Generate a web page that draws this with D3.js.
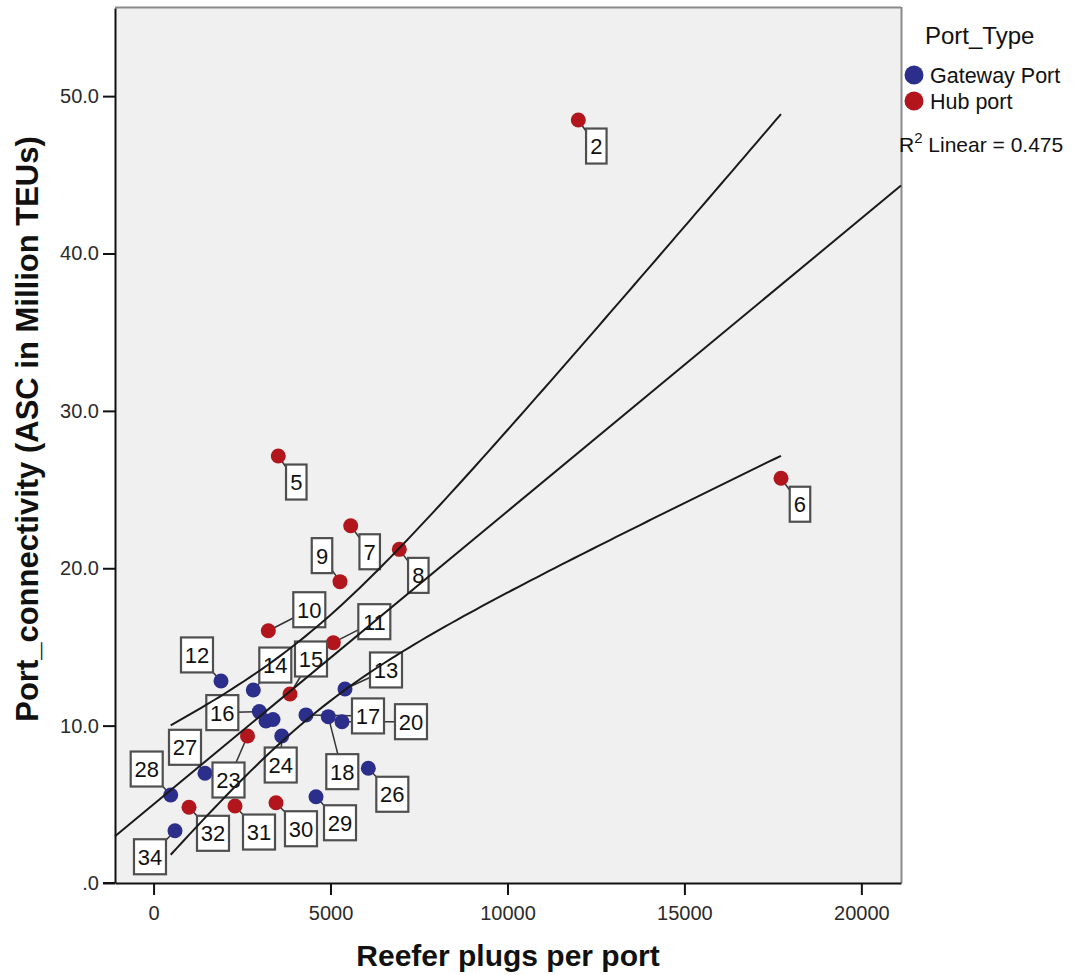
<!DOCTYPE html>
<html>
<head>
<meta charset="utf-8">
<script src="https://cdn.jsdelivr.net/npm/d3@7"></script>
<style>
  html, body { margin: 0; padding: 0; background: #ffffff; }
  svg { display: block; font-family: "Liberation Sans", Arial, sans-serif; }
</style>
</head>
<body>
<svg id="chart" width="1076" height="975"></svg>
<script>
// Port observations: case label, reefer plugs, connectivity (ASC, million TEUs), port type
const caseLabels   = ["2", "5", "6", "7", "8", "9", "10", "11", "15", "23", "30", "31", "32",
                      "12", "14", "16", "", "", "24", "13", "17", "18", "20", "26", "29", "27", "28", "34"];
const reeferPlugs  = [12002, 3524, 17729, 5570, 6944, 5268, 3242, 5079, 3855, 2654, 3459, 2301, 1001,
                      1905, 2818, 2988, 3177, 3375, 3621, 5409, 4307, 4937, 5324, 6068, 4590, 1453, 484, 605];
const connectivity = [48.48, 27.13, 25.72, 22.70, 21.20, 19.15, 16.03, 15.27, 12.01, 9.34, 5.10, 4.89, 4.81,
                      12.84, 12.26, 10.89, 10.29, 10.39, 9.34, 12.33, 10.68, 10.57, 10.25, 7.29, 5.48, 6.97, 5.59, 3.32];
const portType     = ["Hub port", "Hub port", "Hub port", "Hub port", "Hub port", "Hub port", "Hub port",
                      "Hub port", "Hub port", "Hub port", "Hub port", "Hub port", "Hub port",
                      "Gateway Port", "Gateway Port", "Gateway Port", "Gateway Port", "Gateway Port",
                      "Gateway Port", "Gateway Port", "Gateway Port", "Gateway Port", "Gateway Port",
                      "Gateway Port", "Gateway Port", "Gateway Port", "Gateway Port", "Gateway Port"];

const typeNames  = ["Gateway Port", "Hub port"];
const typeColors = ["#2c2e8b", "#b2161c"];

const xTickValues = [0, 5000, 10000, 15000, 20000];
const yTickValues = [0, 10, 20, 30, 40, 50];
const rSquaredText = "0.475";
const tCritical = 2.0555; // t(0.975, df = 26)

// Label box placement relative to its point (pixels)
const labelOffset = {
  "2": [18, 26], "5": [18, 26], "6": [19, 26], "7": [19, 26], "8": [19, 26], "9": [-18, -26],
  "10": [41, -21], "11": [41, -21], "15": [21, -35], "23": [-19, 44], "30": [25, 26], "31": [24, 26],
  "32": [24, 26], "12": [-24, -26], "14": [22, -25], "16": [-37, 1], "24": [-1, 29], "13": [41, -19],
  "17": [62, 1], "18": [14, 55], "20": [69, 0], "26": [24, 26], "29": [24, 26], "27": [-20, -26],
  "28": [-24, -26], "34": [-25, 26]
};

const svg = d3.select("#chart");
const plot = { left: 115, right: 901, top: 8, bottom: 883 };

const x = d3.scaleLinear().domain([-1090, 21120]).range([plot.left, plot.right]);
const y = d3.scaleLinear().domain([0, 55.6]).range([plot.bottom, plot.top]);
const color = d3.scaleOrdinal().domain(typeNames).range(typeColors);

const points = reeferPlugs.map((v, i) => ({
  label: caseLabels[i], x: v, y: connectivity[i], type: portType[i]
}));

// Plot background and frame
svg.append("rect")
  .attr("x", plot.left).attr("y", plot.top)
  .attr("width", plot.right - plot.left).attr("height", plot.bottom - plot.top)
  .attr("fill", "#f0f0f0");
svg.append("line")
  .attr("x1", plot.left).attr("x2", plot.right).attr("y1", plot.top - 0.5).attr("y2", plot.top - 0.5)
  .attr("stroke", "#8a8a8a").attr("stroke-width", 2);
svg.append("line")
  .attr("x1", plot.right + 0.5).attr("x2", plot.right + 0.5).attr("y1", plot.top - 1).attr("y2", plot.bottom)
  .attr("stroke", "#8a8a8a").attr("stroke-width", 2);

// Axes
const xAxis = svg.append("g")
  .attr("transform", `translate(0,${plot.bottom})`)
  .call(d3.axisBottom(x).tickValues(xTickValues).tickFormat(d3.format("d")).tickSize(12).tickSizeOuter(0));
const yAxis = svg.append("g")
  .attr("transform", `translate(${plot.left},0)`)
  .call(d3.axisLeft(y).tickValues(yTickValues)
    .tickFormat(d => d === 0 ? ".0" : d3.format(".1f")(d)).tickSize(12).tickSizeOuter(0));
[xAxis, yAxis].forEach(g => {
  g.select(".domain").attr("stroke", "#111").attr("stroke-width", 2);
  g.selectAll(".tick line").attr("stroke", "#111").attr("stroke-width", 2);
  g.selectAll(".tick text")
    .attr("fill", "#2a2a2a").attr("font-size", 20)
    .attr("font-family", "'Liberation Sans', Arial, sans-serif");
});
xAxis.selectAll(".tick text").attr("dy", "1.1em");
yAxis.selectAll(".tick text").attr("dx", "-0.05em");
// short extension of the x axis line to the left of the y axis
svg.append("line")
  .attr("x1", plot.left - 12).attr("x2", plot.left).attr("y1", plot.bottom).attr("y2", plot.bottom)
  .attr("stroke", "#111").attr("stroke-width", 2);

// Axis titles
svg.append("text")
  .attr("x", (plot.left + plot.right) / 2).attr("y", 966)
  .attr("text-anchor", "middle").attr("font-size", 30).attr("font-weight", "bold")
  .attr("fill", "#111")
  .text("Reefer plugs per port");
svg.append("text")
  .attr("transform", `translate(38,${429}) rotate(-90)`)
  .attr("text-anchor", "middle").attr("font-size", 31).attr("font-weight", "bold")
  .attr("fill", "#111")
  .text("Port_connectivity (ASC in Million TEUs)");

// Leader lines from points to their label boxes
const labelled = points.filter(d => d.label !== "");
svg.append("g").selectAll("line")
  .data(labelled).join("line")
  .attr("x1", d => x(d.x)).attr("y1", d => y(d.y))
  .attr("x2", d => x(d.x) + labelOffset[d.label][0])
  .attr("y2", d => y(d.y) + labelOffset[d.label][1])
  .attr("stroke", "#333").attr("stroke-width", 1.5);

// Points
svg.append("g").selectAll("circle")
  .data(points).join("circle")
  .attr("cx", d => x(d.x)).attr("cy", d => y(d.y)).attr("r", 7.5)
  .attr("fill", d => color(d.type));

// Case label boxes
const labelG = svg.append("g").selectAll("g")
  .data(labelled).join("g")
  .attr("transform", d => `translate(${x(d.x) + labelOffset[d.label][0]},${y(d.y) + labelOffset[d.label][1]})`);
labelG.append("rect")
  .attr("x", d => -(d.label.length * 11.5 + 9) / 2).attr("y", -17.5)
  .attr("width", d => d.label.length * 11.5 + 9).attr("height", 35)
  .attr("fill", "#ffffff").attr("stroke", "#4f4f4f").attr("stroke-width", 2.2);
labelG.append("text")
  .attr("text-anchor", "middle").attr("dy", "0.36em")
  .attr("font-size", 22).attr("fill", "#111")
  .text(d => d.label);

// Linear fit with 95% confidence band for the mean
const n = points.length;
const xMean = d3.mean(points, d => d.x);
const yMean = d3.mean(points, d => d.y);
const sxx = d3.sum(points, d => (d.x - xMean) ** 2);
const sxy = d3.sum(points, d => (d.x - xMean) * (d.y - yMean));
const slope = sxy / sxx;
const intercept = yMean - slope * xMean;
const sse = d3.sum(points, d => (d.y - (intercept + slope * d.x)) ** 2);
const se = Math.sqrt(sse / (n - 2));
const fit = v => intercept + slope * v;
const half = v => tCritical * se * Math.sqrt(1 / n + (v - xMean) ** 2 / sxx);

const fitG = svg.append("g").attr("fill", "none").attr("stroke", "#1a1a1a").attr("stroke-width", 2);
const lineGen = d3.line().x(d => x(d[0])).y(d => y(d[1]));
const [xd0, xd1] = x.domain();
fitG.append("path").attr("d", lineGen([[xd0, fit(xd0)], [xd1, fit(xd1)]]));

const [xMin, xMax] = d3.extent(points, d => d.x);
const steps = d3.range(0, 101).map(k => xMin + (xMax - xMin) * k / 100);
fitG.append("path").attr("d", lineGen(steps.map(v => [v, fit(v) + half(v)])));
fitG.append("path").attr("d", lineGen(steps.map(v => [v, fit(v) - half(v)])));

// Legend
const legend = svg.append("g").attr("fill", "#111");
legend.append("text").attr("x", 925).attr("y", 44).attr("font-size", 24).text("Port_Type");
typeNames.forEach((name, i) => {
  legend.append("circle").attr("cx", 914).attr("cy", 75 + i * 26).attr("r", 9.5).attr("fill", color(name));
  legend.append("text").attr("x", 930).attr("y", 83 + i * 26).attr("font-size", 21.5).text(name);
});
const r2 = legend.append("text").attr("x", 899).attr("y", 152).attr("font-size", 21);
r2.append("tspan").text("R");
r2.append("tspan").attr("dy", -9).attr("font-size", 15).text("2");
r2.append("tspan").attr("dy", 9).text(" Linear = " + rSquaredText);
</script>
</body>
</html>
